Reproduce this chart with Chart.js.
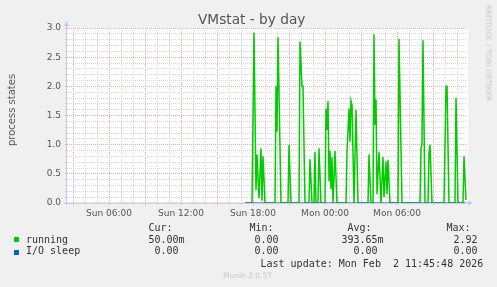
<!DOCTYPE html>
<html>
<head>
<meta charset="utf-8">
<title>VMstat - by day</title>
<script src="https://cdn.jsdelivr.net/npm/chart.js@4/dist/chart.umd.min.js"></script>
<style>
  body { margin: 0; background: #f0f0f0; }
  #wrap { position: relative; width: 497px; height: 287px; overflow: hidden; background: #f0f0f0; }
  #chart { position: absolute; left: 0; top: 0; }
  .txt { position: absolute; white-space: pre; font-family: "DejaVu Sans"; color: #555; }
  .mono { position: absolute; white-space: pre; font: 10px/12px "DejaVu Sans Mono"; color: #333; }
  .box { position: absolute; width: 5px; height: 5px; }
</style>
</head>
<body>
<div id="wrap">
  <canvas id="chart" width="497" height="287"></canvas>
  <div class="txt" style="left:198px;top:11.3px;font-size:13.7px;line-height:16px">VMstat - by day</div>
  <div class="txt" style="left:11.5px;top:109.5px;font-size:10px;line-height:12px;transform:translate(-50%,-50%) rotate(-90deg)">process states</div>
  <div class="txt" style="left:487.6px;top:53.3px;font-size:7.5px;line-height:10px;color:#c8c8c8;transform:translate(-50%,-50%) rotate(90deg)">RRDTOOL / TOBI OETIKER</div>
  <div class="txt" style="left:223px;top:270.7px;font-size:7.5px;line-height:10px;color:#c8c8c8">Munin 2.0.57</div>
  <div id="legend"></div>
</div>
<script>
// minutes since Sun 00:00, one sample every 5 min
const runningTimes = [1040, 1075, 1085, 1095, 1100, 1110, 1120, 1125, 1130, 1140,
  1190, 1195, 1200, 1205, 1220, 1255, 1260, 1270, 1310, 1315, 1325, 1330, 1340,
  1360, 1365, 1375, 1385, 1390, 1395, 1405, 1410, 1420,
  1440, 1445, 1450, 1455, 1460, 1465, 1470, 1475, 1480, 1490, 1500,
  1545, 1550, 1560, 1565, 1570, 1575, 1585, 1595, 1605, 1655, 1660, 1670,
  1680, 1685, 1690, 1695, 1700, 1710, 1720, 1730, 1735, 1745, 1750, 1755, 1765,
  1805, 1810, 1825, 1915, 1920, 1925, 1930, 1940, 1955, 1960, 1965, 1975,
  2035, 2045, 2050, 2060, 2090, 2095, 2105, 2130, 2135, 2145];
const runningValues = [0, 0, 2.92, 0.22, 0.83, 0.08, 0.94, 0.04, 0.80, 0,
  0, 2.0, 1.22, 2.84, 0, 0, 1.0, 0, 0, 2.77, 2.0, 2.0, 0,
  0, 0.75, 0, 0, 0.88, 0, 0, 0.94, 0,
  0, 1.62, 1.25, 1.75, 0.37, 0.89, 0.24, 0.79, 0, 0.89, 0,
  0, 0.88, 1.62, 1.05, 1.75, 1.68, 0, 1.6, 0, 0, 0.83, 0,
  0, 2.89, 1.34, 1.78, 0.15, 0.88, 0, 0.79, 0.1, 0.71, 0.15, 0.74, 0,
  0, 2.81, 0, 0, 0.95, 1.0, 2.79, 0, 0, 0.85, 1.0, 0,
  0, 2.0, 2.0, 0, 0, 1.8, 0, 0, 0.8, 0.05];
const ioTimes = [1040, 2145];
const ioValues = [0, 0];

const tickTimes = [360, 720, 1080, 1440, 1800];
const tickLabels = ["Sun 06:00", "Sun 12:00", "Sun 18:00", "Mon 00:00", "Mon 06:00"];

const seriesNames = ["running", "I/O sleep"];
const seriesColors = ["#00cc00", "#0066b3"];
const statHeaders = ["Cur:", "Min:", "Avg:", "Max:"];
const curText = ["50.00m", "0.00"];
const minText = ["0.00", "0.00"];
const avgText = ["393.65m", "0.00"];
const maxText = ["2.92", "0.00"];
const lastUpdate = "Last update: Mon Feb  2 11:45:48 2026";

document.addEventListener("DOMContentLoaded", () => {
  const legend = document.getElementById("legend");
  const headerLeft = [148.5, 249.5, 347.5, 446.5];
  const colRight = [184.5, 284.6, 383.6, 483.6];
  const rowTop = [233.5, 244.8];
  const boxTop = [237, 250];

  const addText = (text, css) => {
    const el = document.createElement("div");
    el.className = "mono";
    el.textContent = text;
    el.style.cssText = css;
    legend.appendChild(el);
  };

  statHeaders.forEach((h, i) => addText(h, `left:${headerLeft[i]}px;top:222.2px`));
  seriesNames.forEach((name, r) => {
    const box = document.createElement("div");
    box.className = "box";
    box.style.cssText = `left:14px;top:${boxTop[r]}px;background:${seriesColors[r]}`;
    legend.appendChild(box);
    addText(name, `left:26px;top:${rowTop[r]}px`);
    [curText, minText, avgText, maxText].forEach((col, c) => {
      let v = col[r];
      if (!/[a-zA-Z]$/.test(v)) v += " ";
      addText(v, `right:${497 - colRight[c]}px;top:${rowTop[r]}px`);
    });
  });
  addText(lastUpdate, "left:260.5px;top:257.8px");

  const major = "#eea8a8";
  const minor = "#d6d6d6";
  const axisColor = "#c4c8f2";

  // white plot area + axis lines with arrows
  const frame = {
    id: "frame",
    beforeDraw(chart) {
      const { ctx, chartArea: a } = chart;
      ctx.save();
      ctx.fillStyle = "#ffffff";
      ctx.fillRect(a.left, a.top, a.right - a.left + 1, a.bottom - a.top);
      ctx.restore();
    },
    beforeDatasetsDraw(chart) {
      const { ctx, chartArea: a } = chart;
      ctx.save();
      ctx.strokeStyle = axisColor;
      ctx.fillStyle = axisColor;
      ctx.lineWidth = 1;
      ctx.beginPath();
      ctx.moveTo(a.left - 0.5, a.bottom + 2);
      ctx.lineTo(a.left - 0.5, a.top - 3);
      ctx.moveTo(a.left - 3, a.bottom);
      ctx.lineTo(a.right + 2, a.bottom);
      ctx.stroke();
      ctx.beginPath();
      ctx.moveTo(a.left - 3, a.top - 2);
      ctx.lineTo(a.left + 2, a.top - 2);
      ctx.lineTo(a.left - 0.5, a.top - 7);
      ctx.closePath();
      ctx.fill();
      ctx.beginPath();
      ctx.moveTo(a.right + 1, a.bottom - 2.5);
      ctx.lineTo(a.right + 1, a.bottom + 2.5);
      ctx.lineTo(a.right + 6, a.bottom);
      ctx.closePath();
      ctx.fill();
      ctx.restore();
    },
  };

  new Chart(document.getElementById("chart"), {
    type: "line",
    data: {
      datasets: [
        {
          label: seriesNames[1],
          data: ioTimes.map((t, i) => ({ x: t, y: ioValues[i] })),
          borderColor: seriesColors[1],
          borderWidth: 1,
          pointRadius: 0,
          order: 0,
        },
        {
          label: seriesNames[0],
          data: runningTimes.map((t, i) => ({ x: t, y: runningValues[i] })),
          borderColor: seriesColors[0],
          borderWidth: 1.5,
          pointRadius: 0,
          order: 1,
        },
      ],
    },
    options: {
      responsive: false,
      animation: false,
      events: [],
      layout: { padding: { top: 28, right: 30, bottom: 0, left: 0 } },
      plugins: { legend: { display: false }, tooltip: { enabled: false } },
      scales: {
        x: {
          type: "linear",
          min: 150,
          max: 2150,
          afterFit: (s) => { s.height = 84; },
          afterBuildTicks: (s) => {
            const ticks = [];
            for (let t = 180; t <= 2100; t += 60) ticks.push({ value: t });
            s.ticks = ticks;
          },
          ticks: {
            autoSkip: false,
            maxRotation: 0,
            padding: 3,
            color: "#555",
            font: { family: "DejaVu Sans", size: 9 },
            callback: (v) => {
              const i = tickTimes.indexOf(v);
              return i >= 0 ? tickLabels[i] : "";
            },
          },
          grid: {
            color: (c) => (c.tick && c.tick.value % 180 === 0 ? major : minor),
            tickLength: 2,
          },
          border: { display: false, dash: [1, 1] },
        },
        y: {
          min: 0,
          max: 3,
          afterFit: (s) => { s.width = 67; },
          afterBuildTicks: (s) => {
            const ticks = [];
            for (let i = 0; i <= 30; i++) ticks.push({ value: i / 10 });
            s.ticks = ticks;
          },
          ticks: {
            autoSkip: false,
            padding: 4,
            color: "#555",
            font: { family: "DejaVu Sans", size: 9 },
            callback: (v) => (Math.round(v * 10) % 5 === 0 ? v.toFixed(1) : ""),
          },
          grid: {
            color: (c) => (c.tick && Math.round(c.tick.value * 10) % 5 === 0 ? major : minor),
            tickLength: 2,
          },
          border: { display: false, dash: [1, 1] },
        },
      },
    },
    plugins: [frame],
  });
});
</script>
</body>
</html>
